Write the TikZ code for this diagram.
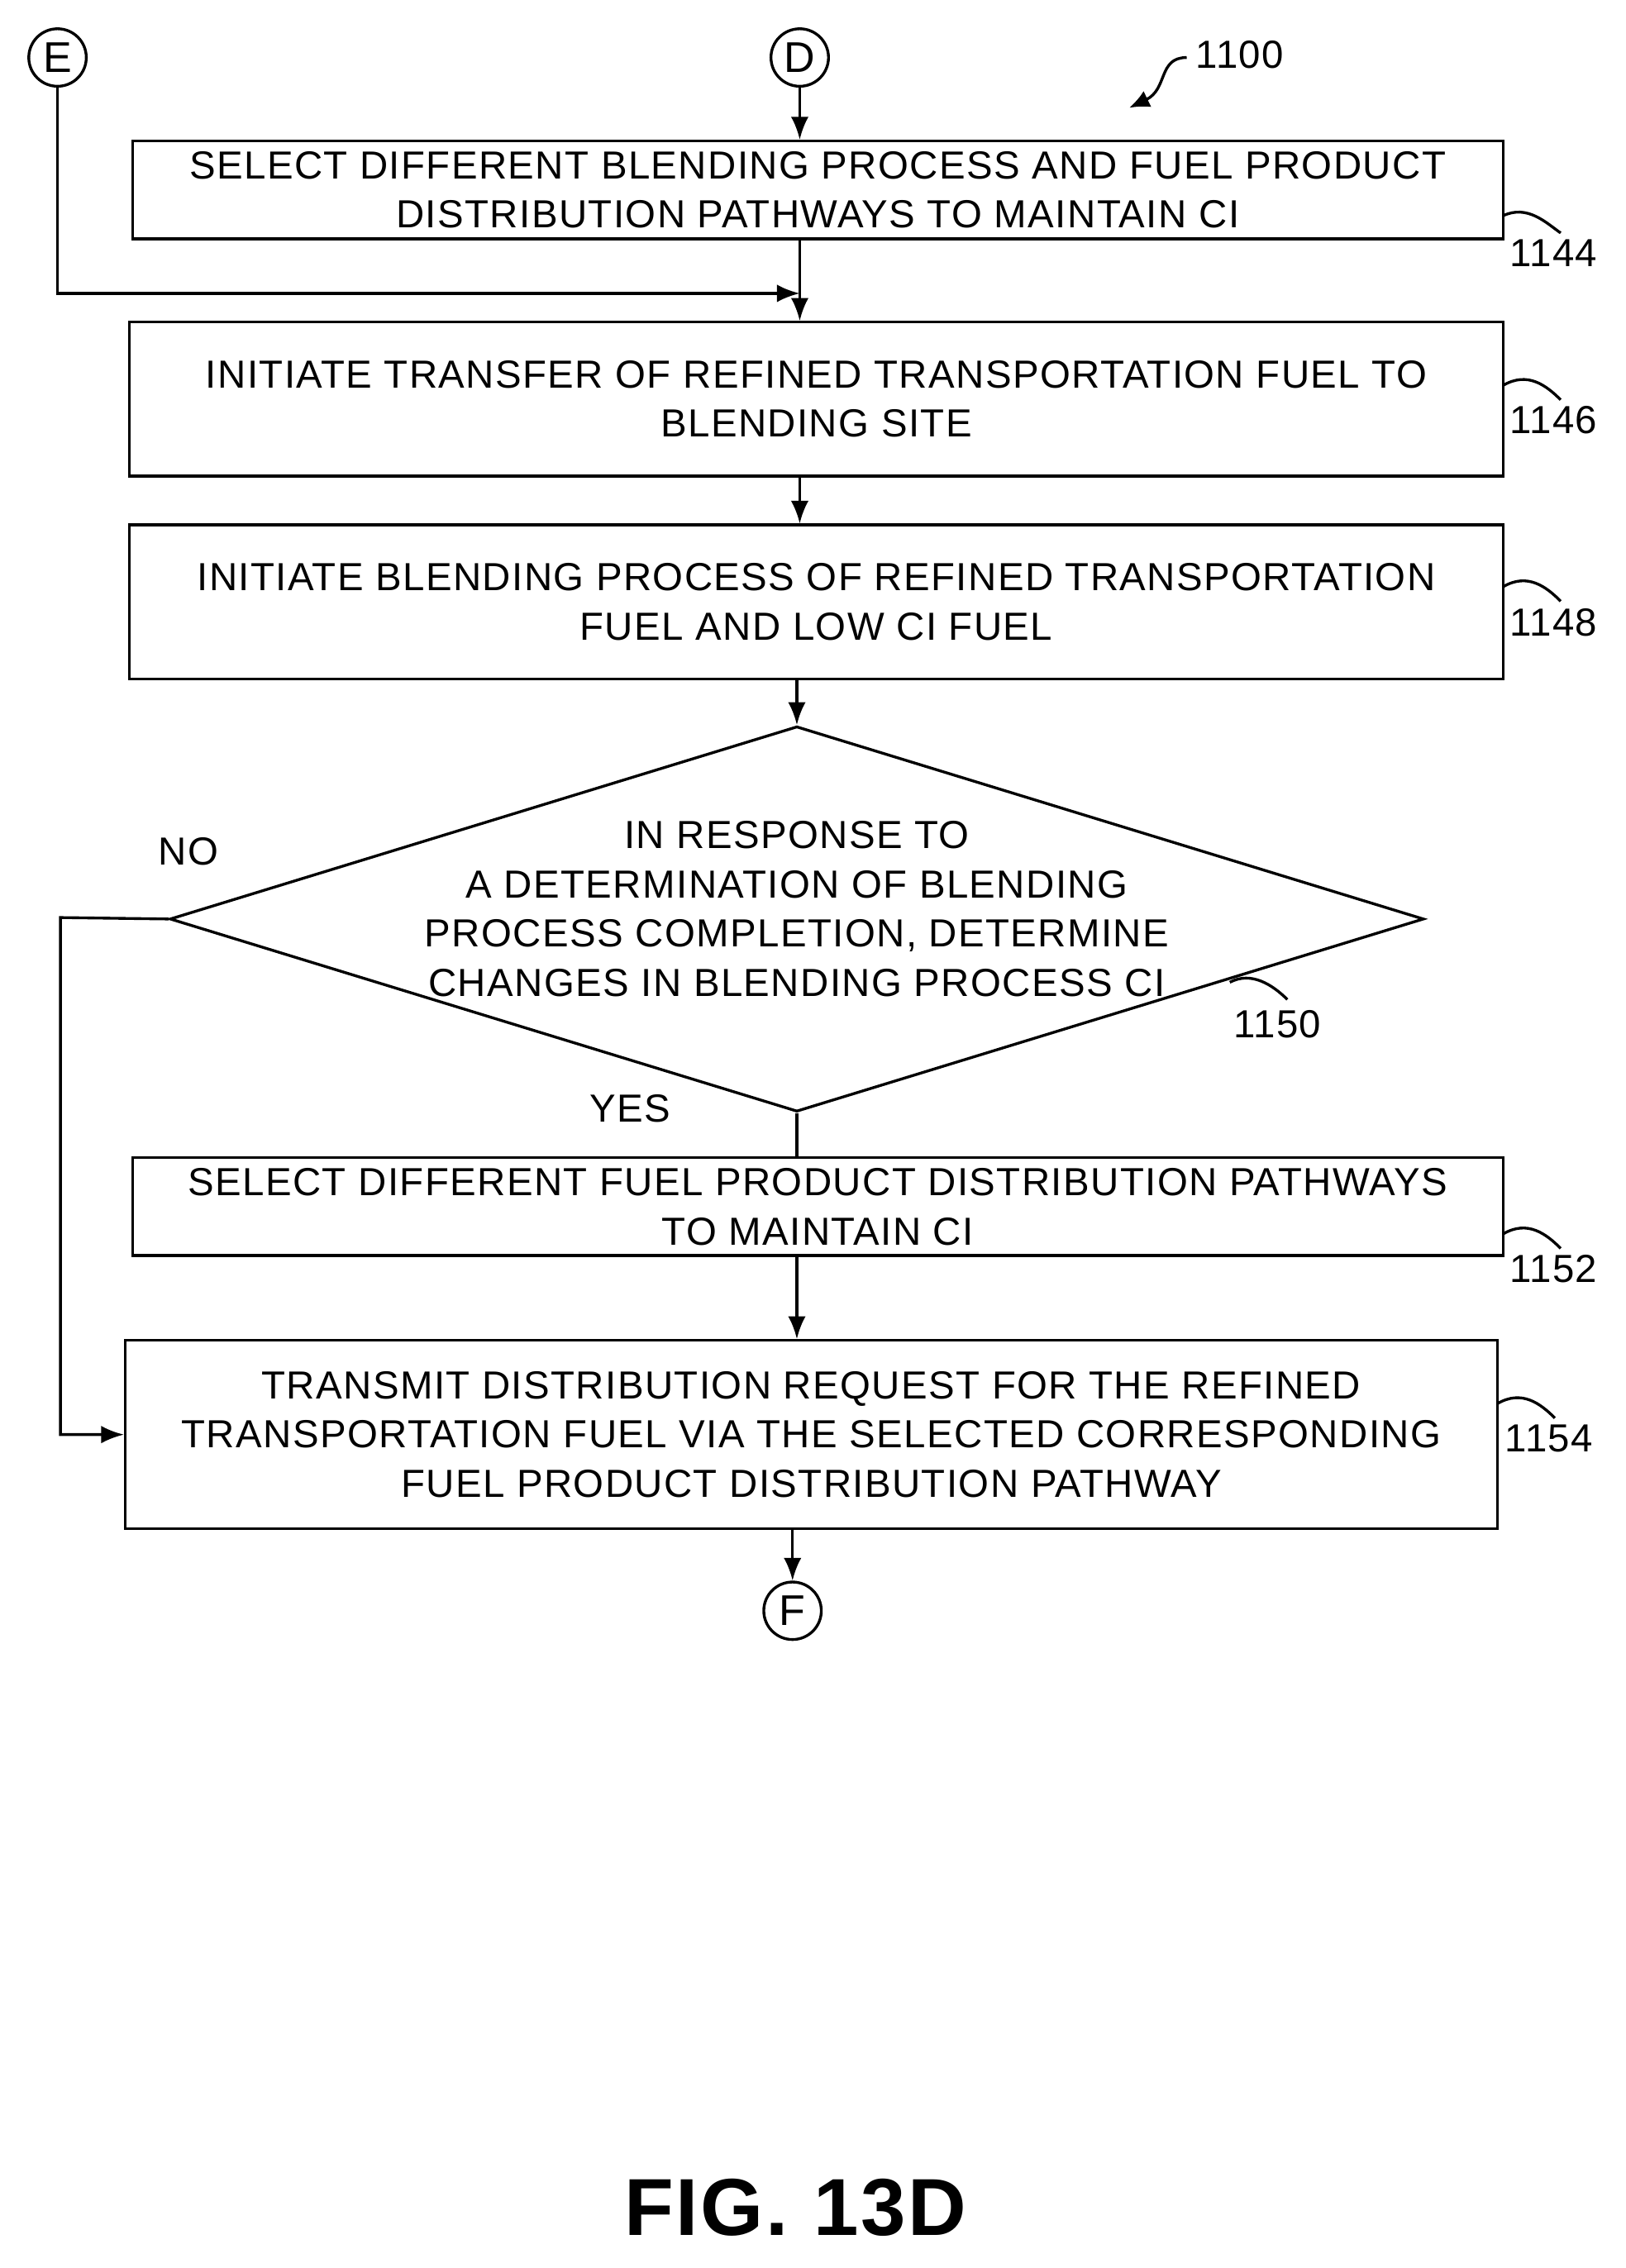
\documentclass[tikz,border=0pt]{standalone}
\usepackage{fontspec}
\setmainfont{Liberation Sans}[LetterSpace=3]
\usetikzlibrary{arrows.meta,shapes.geometric}

\begin{document}
\begin{tikzpicture}[x=0.02cm,y=-0.02cm,line width=1.1pt,
    stage/.style = {rectangle,draw,align=center,inner sep=0pt,font=\fontsize{15.5}{19.5}\selectfont},
    conn/.style = {circle,draw,minimum size=0.8cm,inner sep=0pt,font=\fontsize{17}{20}\selectfont},
    txt/.style = {font=\fontsize{15.5}{19.5}\selectfont,align=center},
    flow/.style = {-{Latex[length=9pt,width=7pt]}},
    tag/.style = {line width=1.1pt}]
\useasboundingbox (0,0) rectangle (1130,1577);
% connectors at the top
\node[conn] (E) at (40,40) {E};
\node[conn] (D) at (556,40) {D};
\node[txt] (r1100) at (862,38) {1100};
\draw[tag,-{Latex[length=8pt,width=7pt]}] (825,40) .. controls (805,40) and (812,62) .. (785,75);
% process steps
\node[stage,minimum width=19.06cm,minimum height=1.36cm] (b1144) at (568.5,132)
    {SELECT DIFFERENT BLENDING PROCESS AND FUEL PRODUCT\\DISTRIBUTION PATHWAYS TO MAINTAIN CI};
\node[stage,minimum width=19.1cm,minimum height=2.14cm] (b1146) at (567.5,277.5)
    {INITIATE TRANSFER OF REFINED TRANSPORTATION FUEL TO\\BLENDING SITE};
\node[stage,minimum width=19.1cm,minimum height=2.14cm] (b1148) at (567.5,418.5)
    {INITIATE BLENDING PROCESS OF REFINED TRANSPORTATION\\FUEL AND LOW CI FUEL};
\node[diamond,draw,minimum width=17.44cm,minimum height=5.36cm,inner sep=0pt] (d1150) at (554,639) {};
\node[txt] (t1150) at (554,632)
    {IN RESPONSE TO\\A DETERMINATION OF BLENDING\\PROCESS COMPLETION, DETERMINE\\CHANGES IN BLENDING PROCESS CI};
\node[stage,minimum width=19.06cm,minimum height=1.36cm] (b1152) at (568.5,839)
    {SELECT DIFFERENT FUEL PRODUCT DISTRIBUTION PATHWAYS\\TO MAINTAIN CI};
\node[stage,minimum width=19.08cm,minimum height=2.62cm] (b1154) at (564,997.5)
    {TRANSMIT DISTRIBUTION REQUEST FOR THE REFINED\\TRANSPORTATION FUEL VIA THE SELECTED CORRESPONDING\\FUEL PRODUCT DISTRIBUTION PATHWAY};
\node[conn] (F) at (551,1120) {F};
% reference numbers
\node[txt] (r1144) at (1080,176) {1144};
\node[txt] (r1146) at (1080,292) {1146};
\node[txt] (r1148) at (1080,433) {1148};
\node[txt] (r1150) at (888,712) {1150};
\node[txt] (r1152) at (1080,882) {1152};
\node[txt] (r1154) at (1077,1000) {1154};
\draw[tag] (1045,150) .. controls (1062,142) and (1075,155) .. (1085,162);
\draw[tag] (1045,268) .. controls (1062,258) and (1075,268) .. (1085,278);
\draw[tag] (1045,408) .. controls (1062,398) and (1075,408) .. (1085,418);
\draw[tag] (855,683) .. controls (870,675) and (885,685) .. (895,695);
\draw[tag] (1045,858) .. controls (1062,848) and (1075,858) .. (1085,868);
\draw[tag] (1041,976) .. controls (1058,966) and (1071,976) .. (1081,986);
\node[txt] (no) at (131,592) {NO};
\node[txt] (yes) at (438,771) {YES};
% flow
\coordinate (join) at (556,204);
\draw[flow] (D) -- (D |- b1144.north);
\draw[flow] (b1144.south -| D) -- (b1146.north -| D);
\draw[flow] (E) |- (join);
\draw[flow] (b1146.south -| D) -- (b1148.north -| D);
\draw[flow] (b1148.south -| d1150) -- (d1150.north);
\draw (d1150.south) -- (b1152.north -| d1150);
\draw[flow] (b1152.south -| d1150) -- (b1154.north -| d1150);
\draw[flow] (d1150.west) -- (42,638) |- (b1154.west);
\draw[flow] (b1154.south -| F) -- (F);
\node[font=\bfseries\fontsize{32}{36}\selectfont] (fig) at (553,1535) {FIG. 13D};
\end{tikzpicture}
\end{document}
